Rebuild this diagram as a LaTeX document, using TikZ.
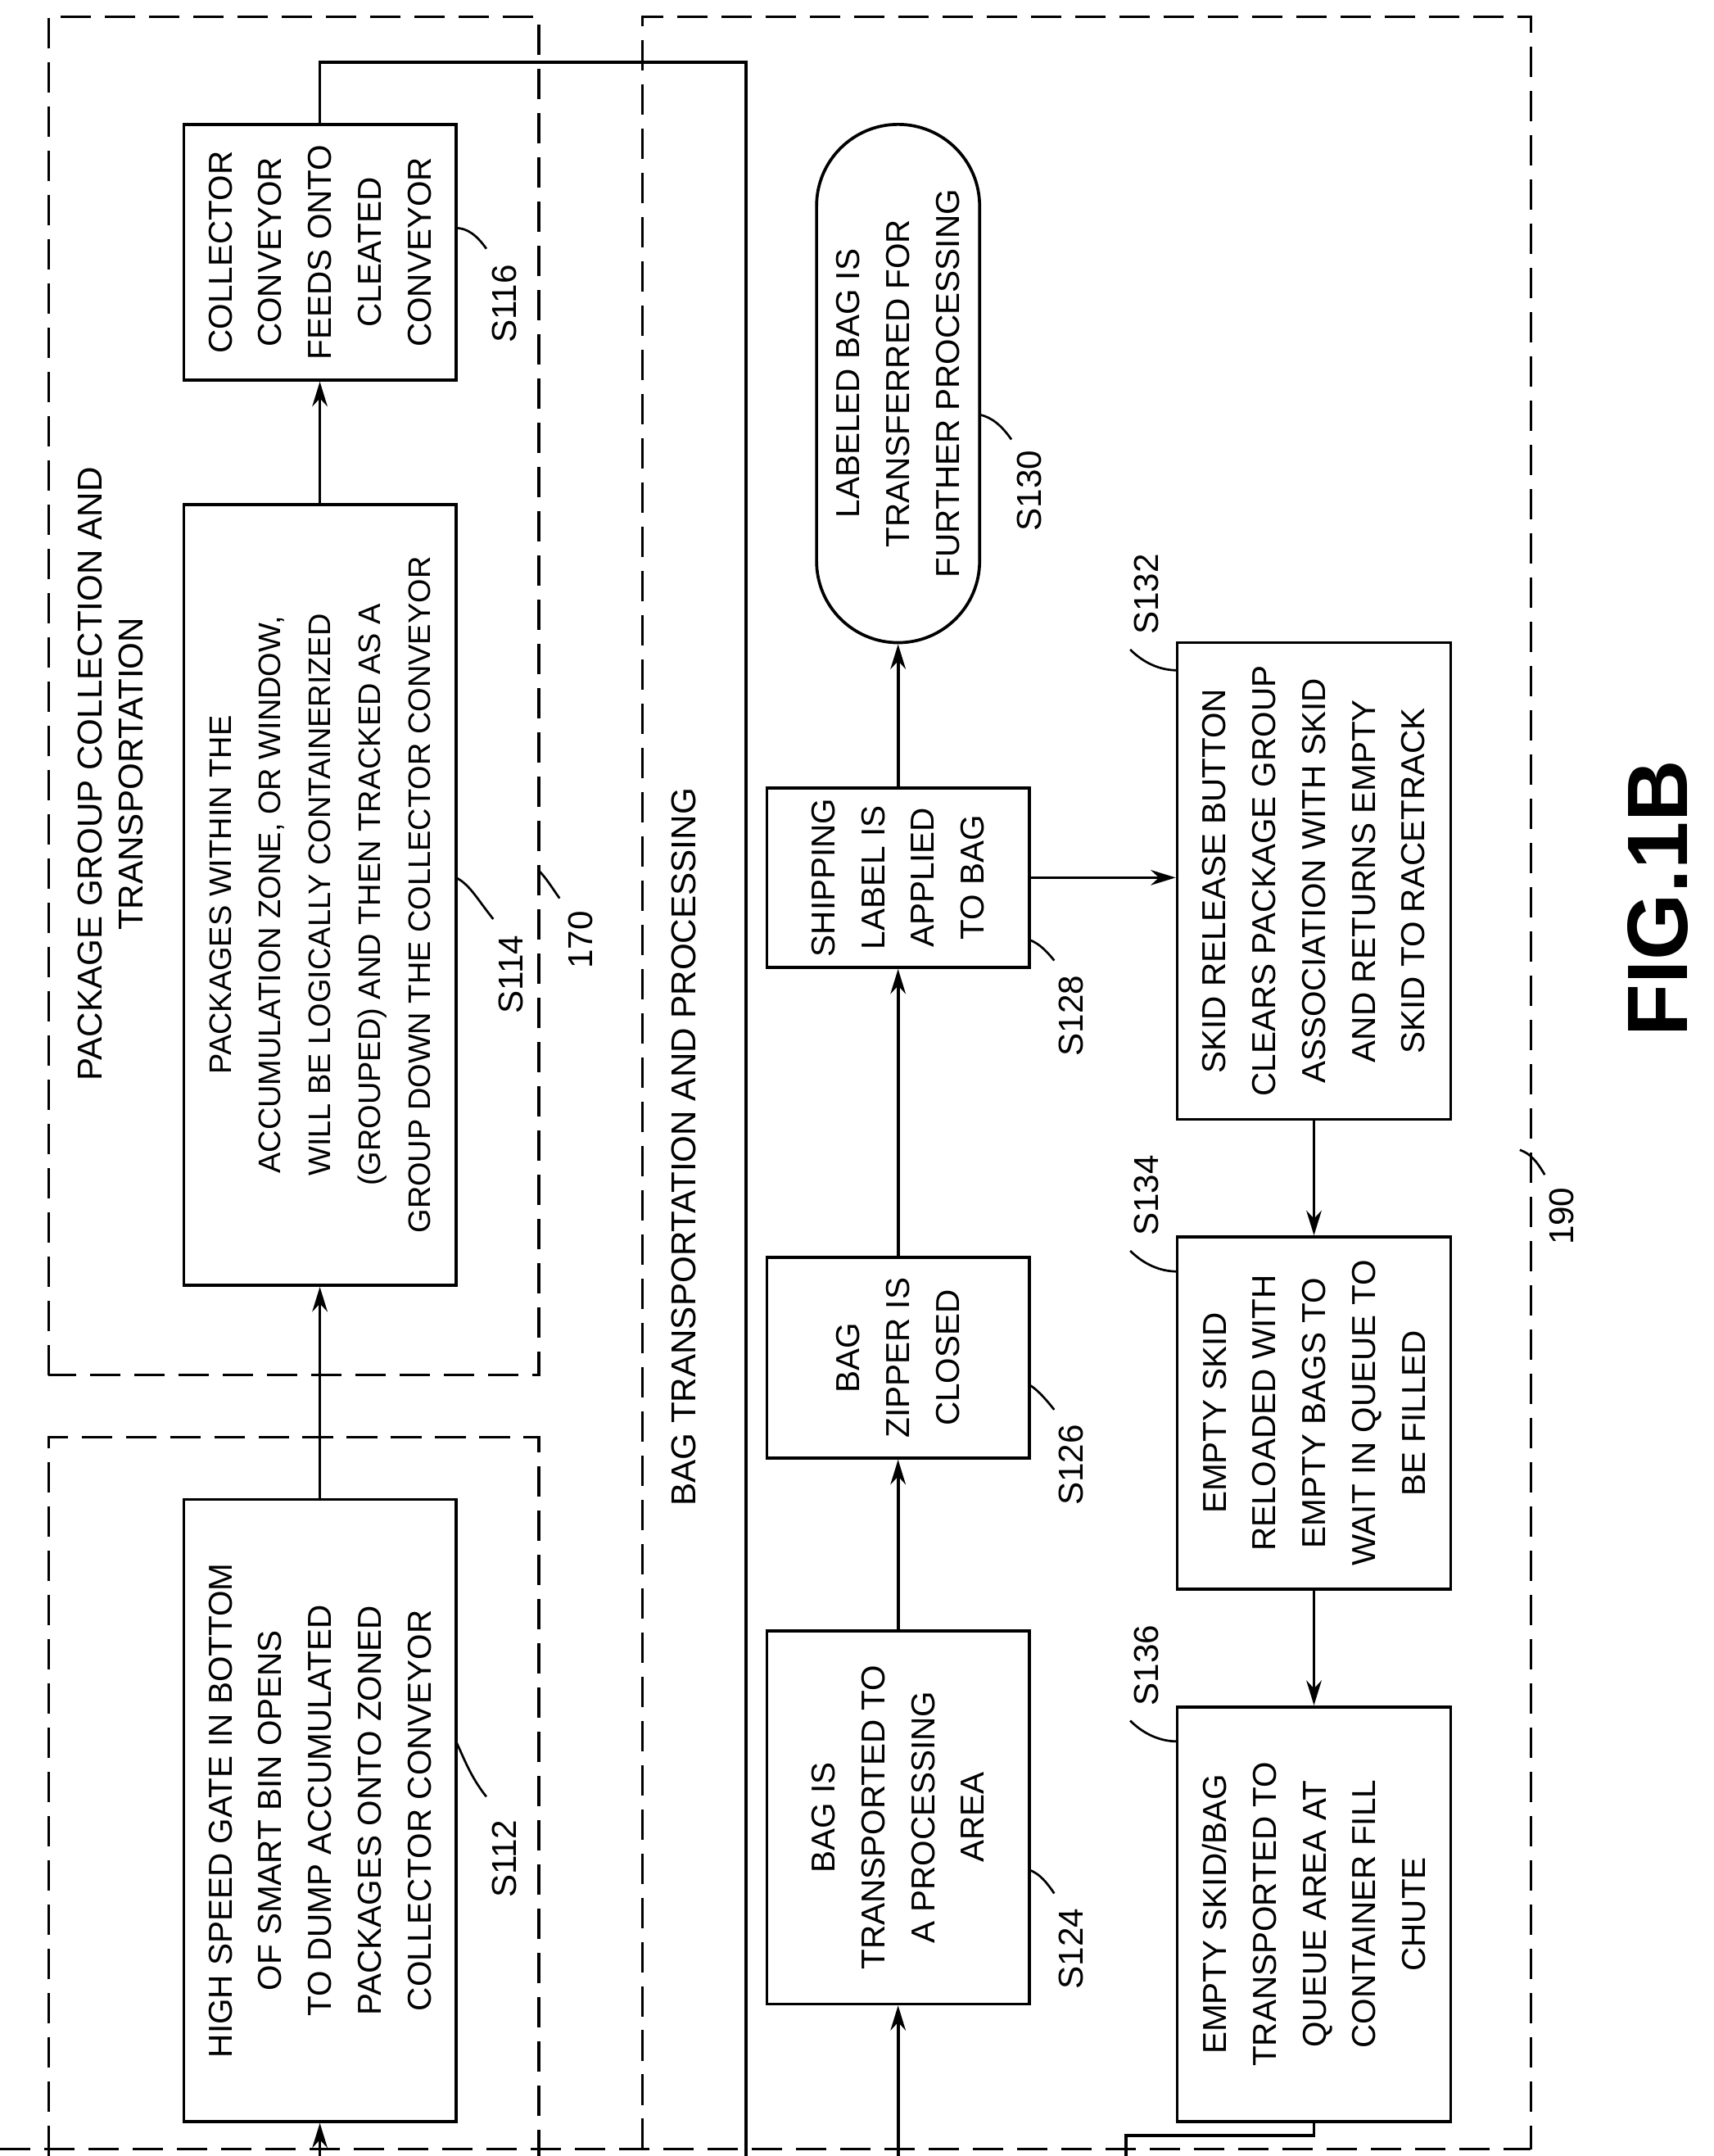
\documentclass[tikz,border=0pt]{standalone}
\usepackage{fontspec}
\setmainfont{Liberation Sans}
\usetikzlibrary{arrows.meta}
\begin{document}
\begin{tikzpicture}[x=1pt,y=-1pt,
 box/.style={draw,line width=2.2pt,rotate=90,align=center,inner sep=0pt,font=\fontsize{24}{36}\selectfont},
 lab/.style={rotate=90,font=\fontsize{25}{30}\selectfont},
 dsh/.style={line width=1.8pt,dash pattern=on 22pt off 10pt},
 ln/.style={line width=2.2pt},
 ar/.style={line width=2.2pt,-{Stealth[length=18pt,width=11pt]}},
 ld/.style={line width=1.6pt}]
\useasboundingbox (0,0) rectangle (1240,1560);
% dashed boxes
\draw[dsh] (35,995) -- (35,12) -- (390,12) -- (390,995) -- cycle;
\draw[dsh] (35,1560) -- (35,1040) -- (390,1040) -- (390,1560);
\draw[dsh] (465,1555) -- (465,12) -- (1108,12) -- (1108,1555);
\draw[dsh] (0,1555) -- (1108,1555);
\node[lab,align=center] (t1) at (80,560) {PACKAGE GROUP COLLECTION AND\\TRANSPORTATION};
\node[lab] (t2) at (495,830) {BAG TRANSPORTATION AND PROCESSING};
\node[box,minimum width=450,minimum height=197] (s112) at (231.5,1310) {HIGH SPEED GATE IN BOTTOM\\OF SMART BIN OPENS\\TO DUMP ACCUMULATED\\PACKAGES ONTO ZONED\\COLLECTOR CONVEYOR};
\node[box,minimum width=565,minimum height=197,font=\fontsize{22.5}{36}\selectfont] (s114) at (231.5,647.5) {PACKAGES WITHIN THE\\ACCUMULATION ZONE, OR WINDOW,\\WILL BE LOGICALLY CONTAINERIZED\\(GROUPED) AND THEN TRACKED AS A\\GROUP DOWN THE COLLECTOR CONVEYOR};
\node[box,minimum width=185,minimum height=197] (s116) at (231.5,182.5) {COLLECTOR\\CONVEYOR\\FEEDS ONTO\\CLEATED\\CONVEYOR};
\node[box,minimum width=270,minimum height=190] (s124) at (650,1315) {BAG IS\\TRANSPORTED TO\\A PROCESSING\\AREA};
\node[box,minimum width=145,minimum height=190] (s126) at (650,982.5) {BAG\\ZIPPER IS\\CLOSED};
\node[box,minimum width=130,minimum height=190] (s128) at (650,635) {SHIPPING\\LABEL IS\\APPLIED\\TO BAG};
\node[box,rounded corners=59pt,minimum width=375,minimum height=118] (s130) at (650,277.5) {LABELED BAG IS\\TRANSFERRED FOR\\FURTHER PROCESSING};
\node[box,minimum width=345,minimum height=198] (s132) at (951,637.5) {SKID RELEASE BUTTON\\CLEARS PACKAGE GROUP\\ASSOCIATION WITH SKID\\AND RETURNS EMPTY\\SKID TO RACETRACK};
\node[box,minimum width=255,minimum height=198] (s134) at (951,1022.5) {EMPTY SKID\\RELOADED WITH\\EMPTY BAGS TO\\WAIT IN QUEUE TO\\BE FILLED};
\node[box,minimum width=300,minimum height=198] (s136) at (951,1385) {EMPTY SKID/BAG\\TRANSPORTED TO\\QUEUE AREA AT\\CONTAINER FILL\\CHUTE};
\coordinate (b1) at (231.5,1560);
\coordinate (b2) at (650,1560);
\coordinate (b3) at (540,1560);
\coordinate (b4) at (815,1560);
\draw[ar] (b1) -- (s112.west);
\draw[ar] (s112.east) -- (s114.west);
\draw[ar] (s114.east) -- (s116.west);
\draw[ln] (s116.east) -- (231.5,45) -- (540,45) -- (b3);
\draw[ar] (b2) -- (s124.west);
\draw[ar] (s124.east) -- (s126.west);
\draw[ar] (s126.east) -- (s128.west);
\draw[ar] (s128.east) -- (s130.west);
\draw[ar] (s128.south) -- (s128.south -| s132.north);
\draw[ar] (s132.west) -- (s134.east);
\draw[ar] (s134.west) -- (s136.east);
\draw[ln] (s136.west) -- (951,1545) -- (815,1545) -- (b4);
\node[lab] (l112) at (365,1345) {S112};
\draw[ld] (352,1300) .. controls (340,1285) and (335,1270) .. (330,1260);
\node[lab] (l114) at (370,705) {S114};
\draw[ld] (357,665) .. controls (345,650) and (340,640) .. (330,635);
\node[lab] (l170) at (420,680) {170};
\draw[ld] (405,650) .. controls (398,640) and (395,635) .. (390,630);
\node[lab] (l116) at (365,220) {S116};
\draw[ld] (352,180) .. controls (345,170) and (338,165) .. (330,165);
\node[lab] (l124) at (775,1410) {S124};
\draw[ld] (763,1370) .. controls (755,1358) and (750,1355) .. (745,1353);
\node[lab] (l126) at (775,1060) {S126};
\draw[ld] (763,1020) .. controls (755,1010) and (750,1005) .. (745,1002);
\node[lab] (l128) at (775,735) {S128};
\draw[ld] (763,695) .. controls (755,685) and (750,682) .. (745,680);
\node[lab] (l130) at (745,355) {S130};
\draw[ld] (732,318) .. controls (725,308) and (718,302) .. (709,300);
\node[lab] (l132) at (830,430) {S132};
\draw[ld] (818,470) .. controls (828,480) and (840,485) .. (852,485);
\node[lab] (l134) at (830,865) {S134};
\draw[ld] (818,905) .. controls (828,915) and (840,920) .. (852,920);
\node[lab] (l136) at (830,1205) {S136};
\draw[ld] (818,1245) .. controls (828,1255) and (840,1260) .. (852,1260);
\node[lab] (l190) at (1130,880) {190};
\draw[ld] (1118,850) .. controls (1112,840) and (1108,835) .. (1100,832);
\node[rotate=90,font=\fontsize{62}{70}\selectfont\bfseries] (fig) at (1200,650) {FIG.1B};
\end{tikzpicture}
\end{document}
